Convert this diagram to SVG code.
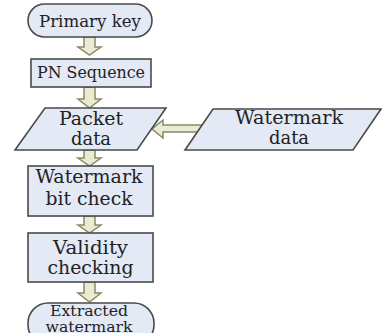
<svg xmlns="http://www.w3.org/2000/svg" width="382" height="333" viewBox="0 0 382 333">
<style>
.box{fill:#e3e9f5;stroke:#4a4a4a;stroke-width:1.6}
.arr{fill:#e9ebd2;stroke:#8a8a66;stroke-width:1.5;stroke-linejoin:miter}
text{font-family:"DejaVu Serif","Liberation Serif",serif;fill:#222;text-anchor:middle;font-size:17px}
.big{font-size:18px}
.sm{font-size:15px}
</style>
<rect width="382" height="333" fill="#fff"/>
<g id="connectors">
<path class="arr" d="M84,37 H95 V47 H101 L89.5,55 L78,47 H84 Z"/>
<path class="arr" d="M84,87 H95 V99 H101 L89.5,108 L78,99 H84 Z"/>
<path class="arr" d="M84,150 H95 V158 H101 L89.5,166 L78,158 H84 Z"/>
<path class="arr" d="M84,216 H95 V225 H101 L89.5,233 L78,225 H84 Z"/>
<path class="arr" d="M84,282 H95 V293 H101 L89.5,302 L78,293 H84 Z"/>
<path class="arr" d="M202,125 V132 H163 V138 L152,129 L163,120 V125 Z"/>
</g>
<g id="primary-key">
<rect class="box" x="28" y="4" width="124" height="33" rx="16.5"/>
<text x="90" y="27" textLength="102" lengthAdjust="spacingAndGlyphs">Primary key</text>
</g>
<g id="pn-sequence">
<rect class="box" x="31" y="59" width="120" height="28"/>
<text x="91" y="78" textLength="108" lengthAdjust="spacingAndGlyphs">PN Sequence</text>
</g>
<g id="packet-data">
<polygon class="box" points="45,108 166,108 137,150 15,150"/>
<text class="big" x="91" y="125" textLength="64" lengthAdjust="spacingAndGlyphs">Packet</text>
<text class="big" x="91" y="145" textLength="40" lengthAdjust="spacingAndGlyphs">data</text>
</g>
<g id="watermark-data">
<polygon class="box" points="213,109 381,109 353,150 185,150"/>
<text class="big" x="289" y="124" textLength="108" lengthAdjust="spacingAndGlyphs">Watermark</text>
<text class="big" x="289" y="144" textLength="40" lengthAdjust="spacingAndGlyphs">data</text>
</g>
<g id="watermark-bit-check">
<rect class="box" x="28" y="166" width="125" height="50"/>
<text class="big" x="89" y="183" textLength="107" lengthAdjust="spacingAndGlyphs">Watermark</text>
<text class="big" x="89" y="205" textLength="87" lengthAdjust="spacingAndGlyphs">bit check</text>
</g>
<g id="validity-checking">
<rect class="box" x="28" y="233" width="125" height="49"/>
<text class="big" x="90.5" y="254" textLength="75" lengthAdjust="spacingAndGlyphs">Validity</text>
<text class="big" x="90.5" y="274" textLength="86" lengthAdjust="spacingAndGlyphs">checking</text>
</g>
<g id="extracted-watermark">
<rect class="box" x="28" y="303" width="126" height="42" rx="20"/>
<text class="sm" x="89" y="316" textLength="78" lengthAdjust="spacingAndGlyphs">Extracted</text>
<text class="sm" x="89" y="332" textLength="87" lengthAdjust="spacingAndGlyphs">watermark</text>
</g>
</svg>
